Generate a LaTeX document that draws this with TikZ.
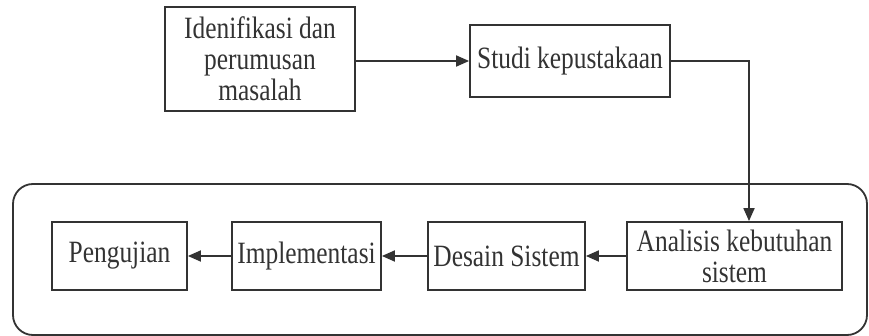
\documentclass[tikz,border=0pt]{standalone}
\usepackage{fontspec}
\setmainfont{Liberation Serif}[FakeStretch=0.82]
\usetikzlibrary{arrows.meta}
\definecolor{ink}{HTML}{333333}
\begin{document}
\begin{tikzpicture}[x=1pt,y=-1pt,
  box/.style={draw=ink,line width=1.8pt,text=ink,inner sep=0pt,align=center,
    font=\fontsize{31}{31}\selectfont},
  arr/.style={draw=ink,line width=1.8pt,-{Triangle[length=13pt,width=11pt]}},
  frame/.style={draw=ink,line width=1.8pt,rounded corners=20pt}]
\useasboundingbox (0,0) rectangle (869,336);
\draw[frame] (13,184) rectangle (867,335);
\node[box,minimum width=190pt,minimum height=104pt] (b1) at (260,59) {Idenifikasi dan\\perumusan\\masalah};
\node[box,minimum width=200pt,minimum height=72pt] (b2) at (570,61) {Studi kepustakaan};
\node[box,minimum width=215pt,minimum height=68pt] (an) at (734.5,256) {Analisis kebutuhan\\sistem};
\node[box,minimum width=157pt,minimum height=68pt] (de) at (506.5,256) {Desain Sistem};
\node[box,minimum width=149pt,minimum height=68pt] (im) at (306.5,256) {Implementasi};
\node[box,minimum width=135pt,minimum height=68pt] (pe) at (119.5,256) {Pengujian};
\coordinate (turn) at (749,61);
\draw[arr] (b1.east |- b2.east) -- (b2.west);
\draw[arr] (b2.east) -- (turn) -- (turn |- an.north);
\draw[arr] (an.west) -- (de.east);
\draw[arr] (de.west) -- (im.east);
\draw[arr] (im.west) -- (pe.east);
\end{tikzpicture}
\end{document}
